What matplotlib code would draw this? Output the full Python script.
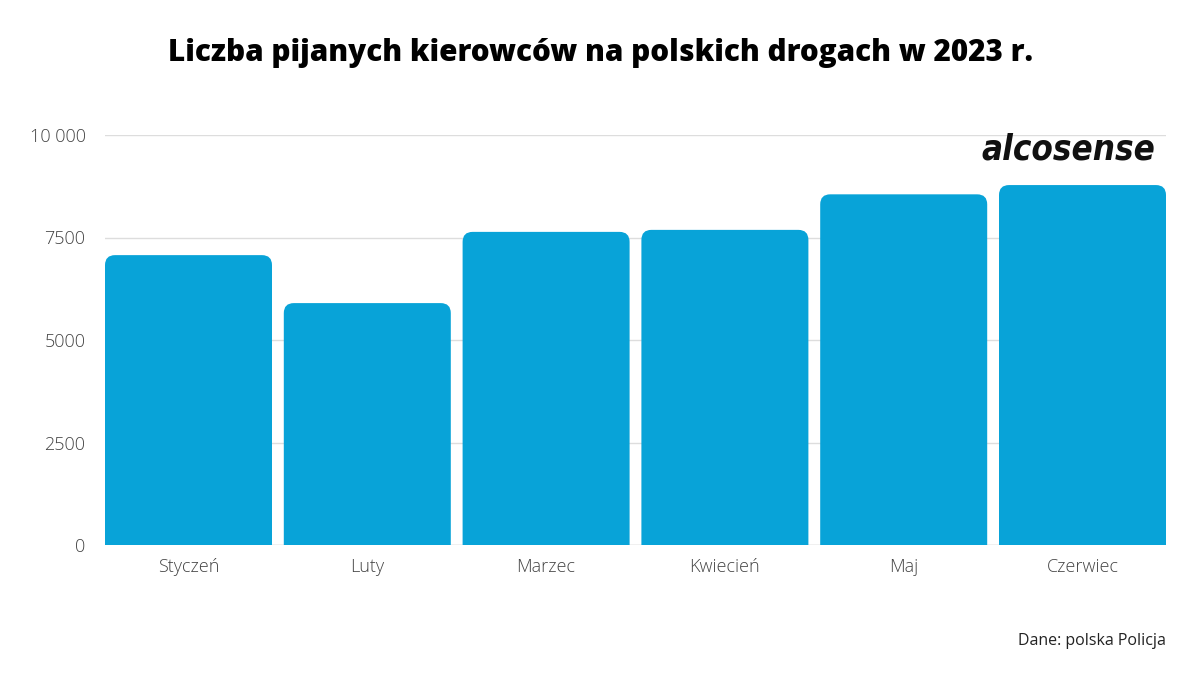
import matplotlib
matplotlib.use("Agg")
import matplotlib.pyplot as plt
from matplotlib.patches import FancyBboxPatch
from matplotlib.ticker import FuncFormatter

months = ["Styczeń", "Luty", "Marzec", "Kwiecień", "Maj", "Czerwiec"]
drivers = [7070, 5900, 7637, 7686, 8553, 8779]
yticks = [0, 2500, 5000, 7500, 10000]

plt.rcParams['font.family'] = ['Open Sans', 'DejaVu Sans']

fig = plt.figure(figsize=(12, 6.75), dpi=100)
ax = fig.add_axes([105/1200, 130/675, 1061/1200, 410/675])

w = 0.934
color = "#08A3D8"
bars = ax.bar(range(len(months)), drivers, width=w, color=color, zorder=2)

ax.set_xlim(-w/2, len(months) - 1 + w/2)
ax.set_ylim(0, 10000)

px_x = 1061 / (len(months) - 1 + w)
px_y = 410 / 10000
r_px = 10
rx = r_px / px_x
aspect = (r_px / px_y) / rx
for b in bars:
    x0, h = b.get_x(), b.get_height()
    b.set_visible(False)
    p = FancyBboxPatch((x0, -600), b.get_width(), h + 600,
                       boxstyle=f"round,pad=0,rounding_size={rx}",
                       mutation_aspect=aspect, facecolor=color,
                       edgecolor="none", zorder=2, clip_on=True)
    ax.add_patch(p)

ax.set_yticks(yticks)
ax.yaxis.set_major_formatter(FuncFormatter(
    lambda v, _: f"{int(v):,}".replace(",", " ") if v >= 10000 else f"{int(v)}"))
ax.set_xticks(range(len(months)))
ax.set_xticklabels(months)
ax.grid(axis="y", color="#dddddd", linewidth=1, zorder=0)
ax.tick_params(axis="both", length=0, labelsize=13, labelcolor="#444444")
for lab in ax.get_xticklabels() + ax.get_yticklabels():
    lab.set_fontweight("light")
ax.tick_params(axis="x", pad=9)
ax.tick_params(axis="y", pad=14)
for s in ax.spines.values():
    s.set_visible(False)
ax.axhline(0, color="#cccccc", linewidth=1, zorder=1)

fig.text(0.5, 1 - 53/675, "Liczba pijanych kierowców na polskich drogach w 2023 r.",
         ha="center", va="center", fontsize=21.3, fontweight=800, fontstretch="normal",
         color="#000000")

fig.text(1155/1200, 1 - 149/675, "alcosense", ha="right", va="center",
         fontsize=25, fontweight="bold", fontstyle="italic", fontstretch="condensed",
         color="#111111", family=["DejaVu Sans"])

fig.text(1166/1200, 1 - 641/675, "Dane: polska Policja", ha="right", va="center",
         fontsize=11.5, color="#222222")

fig.savefig("out.png", dpi=100, facecolor="white")
